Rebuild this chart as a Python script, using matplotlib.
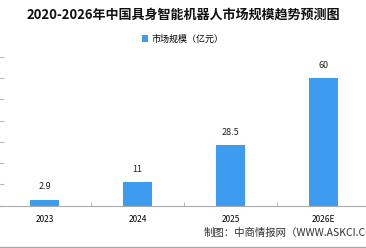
import matplotlib
matplotlib.use("Agg")
import matplotlib.pyplot as plt
from matplotlib.lines import Line2D

plt.rcParams['font.family'] = ['Noto Sans CJK SC', 'DejaVu Sans']

# Données
years = ['2023', '2024', '2025', '2026E']
market_size = [2.9, 11, 28.5, 60]
value_labels = ['2.9', '11', '28.5', '60']

title = '2020-2026年中国具身智能机器人市场规模趋势预测图'
legend_label = '市场规模（亿元）'
source = '制图：中商情报网（WWW.ASKCI.COM）'

bar_color = '#3d9cf0'
axis_color = '#aaaaaa'

fig = plt.figure(figsize=(3.66, 2.48), dpi=100)
ax = fig.add_axes([-2 / 366, 42.3 / 248, 372 / 366, 148.7 / 248])

x = range(len(years))
ax.bar(x, market_size, width=0.31, color=bar_color, label=legend_label)
for xi, v, lab in zip(x, market_size, value_labels):
    ax.annotate(lab, (xi, v), xytext=(0, 6), textcoords='offset points',
                ha='center', va='bottom', fontsize=6.5, color='#222222')

ax.set_xlim(-0.5, 3.5)
ax.set_ylim(0, 70)
ax.set_xticks(list(x))
ax.set_xticklabels(years, fontsize=6)
ax.set_xticks([0.5, 1.5, 2.5], minor=True)
ax.tick_params(axis='x', which='major', length=0, pad=7)
ax.tick_params(axis='x', which='minor', direction='in', length=3, color=axis_color)
ax.set_yticks(range(0, 71, 10))
ax.set_yticklabels([])
ax.tick_params(axis='y', direction='in', length=4, color='#bbbbbb')

for side in ['top', 'right', 'left']:
    ax.spines[side].set_visible(False)
ax.spines['bottom'].set_color(axis_color)

fig.text(0.5, 0.94, title, ha='center', va='center', fontsize=9.4,
         fontweight='bold', color='#111111')
fig.legend(loc='center', bbox_to_anchor=(0.5, 0.842), frameon=False,
           fontsize=6.5, handlelength=0.7, handleheight=0.7, handletextpad=0.4)

# la source est coupée au bord droit, comme dans l'original
fig.text(204 / 366, 1 - 233 / 248, source, ha='left', va='center',
         fontsize=7.5, color='#333333')

fig.add_artist(Line2D([0, 1], [1 - 246.5 / 248] * 2, color='#aaaaaa', lw=1,
                      transform=fig.transFigure))

fig.savefig('out.png', dpi=100)
